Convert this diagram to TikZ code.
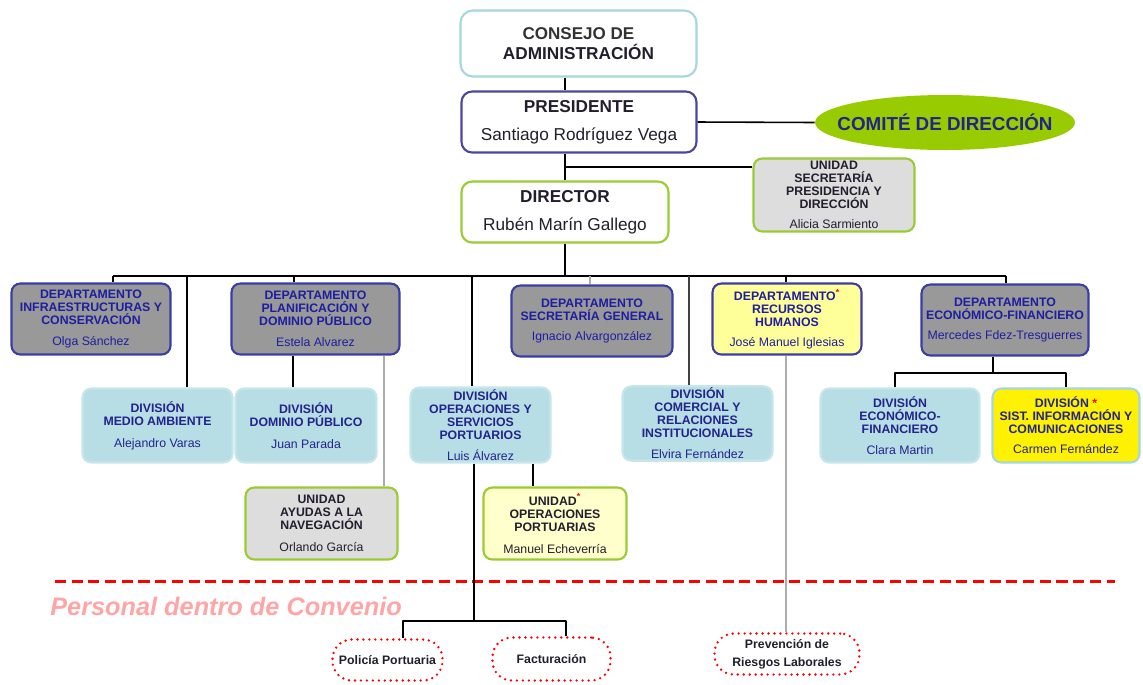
\documentclass[tikz,border=0pt]{standalone}
\usepackage{fontspec}
\setmainfont{Liberation Sans}
\usetikzlibrary{shapes.geometric}
\definecolor{azulBorde}{RGB}{60,60,165}
\definecolor{azulTexto}{RGB}{30,30,160}
\definecolor{azulDiv}{RGB}{35,35,140}
\definecolor{grisDepto}{RGB}{153,153,153}
\definecolor{grisUnidad}{RGB}{221,221,221}
\definecolor{amarilloClaro}{RGB}{255,255,153}
\definecolor{amarilloPalido}{RGB}{255,255,204}
\definecolor{celeste}{RGB}{183,222,228}
\definecolor{celesteBorde}{RGB}{198,230,234}
\definecolor{cianBorde}{RGB}{165,215,220}
\definecolor{moradoBorde}{RGB}{75,70,160}
\definecolor{verde}{RGB}{153,204,51}
\definecolor{verdeComite}{RGB}{153,204,0}
\definecolor{negro}{RGB}{35,30,45}
\definecolor{rosa}{RGB}{255,165,165}
\newcommand{\estrella}{\textcolor{red}{\textsuperscript{*}}}
\tikzset{
  caja/.style={rounded corners=5pt, line width=1.2pt, align=center, inner sep=1pt,
    font=\fontsize{7}{7.4}\selectfont\bfseries},
  depto/.style={caja, draw=azulBorde, fill=grisDepto, text=azulTexto, minimum height=1.42cm},
  divi/.style={caja, draw=celesteBorde, fill=celeste, text=azulDiv, minimum height=1.48cm},
  unidad/.style={caja, draw=verde, fill=grisUnidad, text=negro, minimum height=1.44cm},
  jefe/.style={caja, fill=white, text=negro, rounded corners=6pt,
    font=\fontsize{9.8}{11}\selectfont\bfseries},
  conv/.style={draw=red, line width=1.5pt, dash pattern=on 0pt off 3.4pt, line cap=round,
    rounded corners=11pt, align=center, text=negro, font=\fontsize{7}{10}\selectfont\bfseries},
  linea/.style={line width=0.9pt},
  lineagris/.style={line width=0.9pt, draw=gray!65}
}
\begin{document}
\begin{tikzpicture}[x=0.02cm, y=-0.02cm, line join=round]
\useasboundingbox (0,0) rectangle (1143,684);
%Nivel superior
\node[jefe, draw=cianBorde, minimum width=4.72cm, minimum height=1.32cm, rounded corners=7pt] (consejo) at (578.5,43.5)
  {\fontsize{9.7}{10.8}\selectfont\color{black!80}CONSEJO DE\\ADMINISTRACIÓN};
\node[jefe, draw=moradoBorde, minimum width=4.7cm, minimum height=1.22cm] (presi) at (579,122)
  {PRESIDENTE\\[5pt]{\mdseries Santiago Rodríguez Vega}};
\node[ellipse, fill=verdeComite, minimum width=5.2cm, minimum height=1.1cm, inner xsep=-9pt, inner ysep=0pt,
  text=azulDiv, font=\fontsize{10.7}{12}\selectfont\bfseries] (comite) at (945,122.5) {COMITÉ DE DIRECCIÓN};
\node[jefe, draw=verde, minimum width=4.14cm, minimum height=1.22cm] (director) at (565,212)
  {DIRECTOR\\[5pt]{\mdseries Rubén Marín Gallego}};
\node[unidad, minimum width=3.22cm, minimum height=1.46cm] (unisec) at (834,195)
  {UNIDAD\\SECRETARÍA\\PRESIDENCIA Y\\DIRECCIÓN\\[4pt]{\mdseries Alicia Sarmiento}};
%Departamentos
\node[depto, minimum width=3.18cm] (infra) at (91,319)
  {DEPARTAMENTO\\INFRAESTRUCTURAS Y\\CONSERVACIÓN\\[4.5pt]{\mdseries Olga Sánchez}};
\node[depto, minimum width=3.36cm] (plani) at (315.5,319)
  {DEPARTAMENTO\\PLANIFICACIÓN Y\\DOMINIO PÚBLICO\\[4.5pt]{\mdseries Estela Alvarez}};
\node[depto, minimum width=3.22cm] (secgen) at (592,321)
  {DEPARTAMENTO\\SECRETARÍA GENERAL\\[4.5pt]{\mdseries Ignacio Alvargonzález}};
\node[depto, fill=amarilloClaro, minimum width=2.98cm] (rrhh) at (787,319)
  {DEPARTAMENTO\estrella\\RECURSOS\\HUMANOS\\[4pt]{\mdseries José Manuel Iglesias}};
\node[depto, minimum width=3.34cm] (ecofin) at (1005,320)
  {DEPARTAMENTO\\ECONÓMICO-FINANCIERO\\[4.5pt]{\mdseries Mercedes Fdez-Tresguerres}};
%Divisiones
\node[divi, minimum width=3.0cm] (medio) at (157.5,425.5)
  {DIVISIÓN\\MEDIO AMBIENTE\\[5pt]{\mdseries Alejandro Varas}};
\node[divi, minimum width=2.82cm] (dominio) at (306,425.5)
  {DIVISIÓN\\DOMINIO PÚBLICO\\[5pt]{\mdseries Juan Parada}};
\node[divi, minimum width=2.8cm, minimum height=1.5cm] (oper) at (480.5,425)
  {DIVISIÓN\\OPERACIONES Y\\SERVICIOS\\PORTUARIOS\\[4.5pt]{\mdseries Luis Álvarez}};
\node[divi, minimum width=3.0cm] (comercial) at (697.5,423.5)
  {DIVISIÓN\\COMERCIAL Y\\RELACIONES\\INSTITUCIONALES\\[4.5pt]{\mdseries Elvira Fernández}};
\node[divi, minimum width=3.18cm] (ecodiv) at (900,425.5)
  {DIVISIÓN\\ECONÓMICO-\\FINANCIERO\\[4.5pt]{\mdseries Clara Martin}};
\node[divi, fill=yellow, draw=cianBorde, minimum width=2.94cm] (sist) at (1066,425.5)
  {DIVISIÓN \textcolor{red}{*}\\SIST. INFORMACIÓN Y\\COMUNICACIONES\\[4pt]{\mdseries Carmen Fernández}};
%Unidades
\node[unidad, minimum width=3.04cm] (ayudas) at (321.5,523.5)
  {UNIDAD\\AYUDAS A LA\\NAVEGACIÓN\\[5pt]{\mdseries Orlando García}};
\node[unidad, fill=amarilloPalido, minimum width=2.86cm] (opport) at (555,523.5)
  {UNIDAD\estrella\\OPERACIONES\\PORTUARIAS\\[5pt]{\mdseries Manuel Echeverría}};
%Personal dentro de convenio
\draw[red, line width=1.7pt, dash pattern=on 6.3pt off 3.2pt] (55,581) -- (1115,581);
\node[anchor=west, inner sep=0pt, text=rosa, font=\fontsize{14.4}{16}\selectfont\bfseries\itshape]
  (convenio) at (50,606) {Personal dentro de Convenio};
\node[conv, minimum width=2.2cm, minimum height=0.82cm] (policia) at (387.5,660) {Policía Portuaria};
\node[conv, minimum width=2.36cm, minimum height=0.86cm] (factur) at (551.5,659) {Facturación};
\node[conv, minimum width=2.9cm, minimum height=0.82cm] (preven) at (787,654) {Prevención de\\Riesgos Laborales};
%Conectores
\draw[linea] (consejo.south -| director) -- (presi.north -| director);
\draw[linea] (presi.south -| director) -- (director.north);
\draw[linea] (presi.east) -- (comite.west);
\coordinate (br) at (565,167);
\draw[linea] (br) -- (br -| unisec.west);
\coordinate (busL) at (113,276); \coordinate (busR) at (1006,276);
\draw[linea] (director.south) -- (director.south |- busL);
\draw[linea] (busL) -- (busR);
\foreach \x/\n in {113/infra, 187/medio, 294/plani, 472/oper, 786/rrhh, 1006/ecofin}
  \draw[linea] (\x,276) -- (\x,0 |- \n.north);
\draw[lineagris] (590,276) -- (590,0 |- secgen.north);
\draw[linea, draw=black!75] (689,276) -- (689,0 |- comercial.north);
\draw[linea] (293,0 |- plani.south) -- (293,0 |- dominio.north);
\draw[lineagris] (384,0 |- plani.south) -- (384,0 |- ayudas.north);
\draw[linea] (533,0 |- oper.south) -- (533,0 |- opport.north);
\draw[linea] (474,0 |- oper.south) -- (474,621);
\draw[linea] (403,0 |- policia.north) |- (566,621) -- (566,0 |- factur.north);
\draw[lineagris] (786,0 |- rrhh.south) -- (786,0 |- preven.north);
\draw[linea] (993,0 |- ecofin.south) -- (993,373);
\draw[linea] (895,0 |- ecodiv.north) |- (1066,373) -- (sist.north);
\end{tikzpicture}
\end{document}
